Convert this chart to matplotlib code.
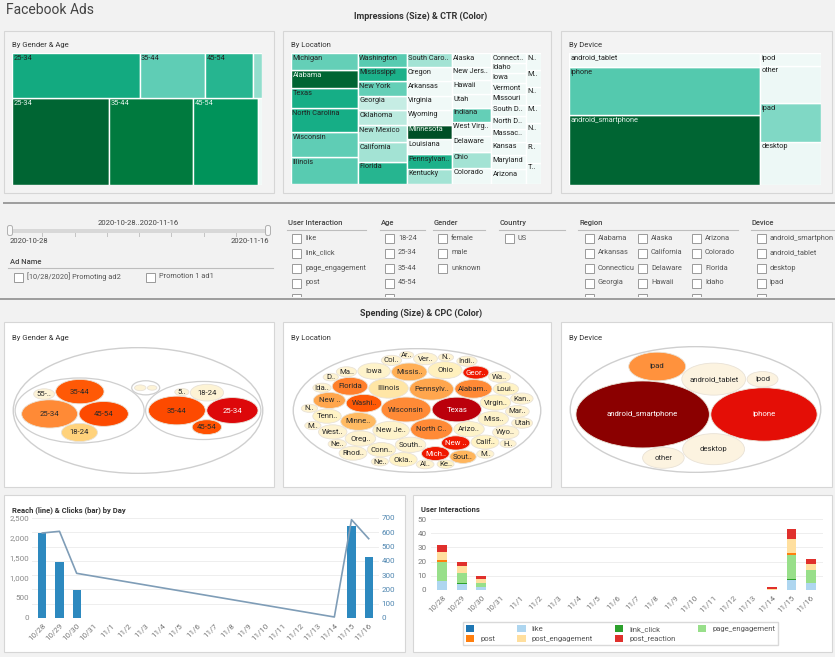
import numpy as np
import matplotlib
matplotlib.use('Agg')
import matplotlib.pyplot as plt
from matplotlib.patches import Rectangle, Circle, FancyBboxPatch
from matplotlib.colors import LinearSegmentedColormap

plt.rcParams['font.family'] = ['Roboto', 'DejaVu Sans']

W, H = 835, 657

# ---------------- data ----------------
# Impressions treemaps (size = impressions, colour = CTR, relative)
gender_tm_group = ['female', 'female', 'female', 'female', 'male', 'male', 'male', 'male']
gender_tm_age = ['25-34', '35-44', '45-54', '18-24', '25-34', '35-44', '45-54', '18-24']
gender_tm_impr = [5715, 2925, 2166, 399, 8256, 7224, 5508, 340]
gender_tm_ctr = [0.60, 0.43, 0.55, 0.30, 0.92, 0.85, 0.72, 0.02]

loc_tm_name = ['Illinois', 'Wisconsin', 'North Carolina', 'Texas', 'Alabama', 'Michigan',
               'Florida', 'California', 'New Mexico', 'Oklahoma', 'Georgia', 'New York',
               'Mississippi', 'Washington', 'Kentucky', 'Pennsylvania', 'Louisiana', 'Minnesota',
               'Wyoming', 'Virginia', 'Arkansas', 'Oregon', 'Ohio', 'South Carolina', 'Colorado',
               'Delaware', 'West Virginia', 'Indiana', 'Utah', 'Hawaii', 'New Jersey', 'Alaska',
               'Arizona', 'Maryland', 'Kansas', 'Massachusetts', 'North Dakota', 'South Dakota',
               'Missouri', 'Vermont', 'Iowa', 'Idaho', 'Connecticut', 'Tennessee', 'Rhode Island',
               'Nebraska', 'Montana', 'Nevada', 'Maine', 'New Hampshire']
loc_tm_impr = [1780, 1650, 1580, 1320, 1190, 1150, 1080, 945, 810, 730, 700, 700, 700, 680, 680,
               660, 660, 660, 660, 640, 640, 640, 620, 630, 630, 620, 570, 550, 540, 540, 540, 540,
               500, 480, 470, 450, 420, 400, 380, 360, 360, 340, 330, 320, 300, 290, 280, 270, 260, 250]
loc_tm_ctr = [0.45, 0.43, 0.58, 0.58, 0.92, 0.42, 0.55, 0.25, 0.22, 0.18, 0.15, 0.42, 0.57, 0.45,
              0.25, 0.57, 0.02, 1.0, 0.02, 0.02, 0.02, 0.02, 0.25, 0.25, 0.02, 0.02, 0.02, 0.42,
              0.02, 0.02, 0.02, 0.02, 0.02, 0.02, 0.02, 0.02, 0.02, 0.02, 0.02, 0.02, 0.02, 0.02,
              0.02, 0.02, 0.02, 0.02, 0.02, 0.02, 0.02, 0.02]

device_tm_name = ['android_smartphone', 'iphone', 'android_tablet', 'desktop', 'ipad', 'other', 'ipod']
device_tm_impr = [13179, 9168, 2674, 2623, 2379, 2257, 793]
device_tm_ctr = [0.92, 0.46, 0.02, 0.03, 0.35, 0.03, 0.02]

# Spending bubbles (area = spending, colour = CPC, relative)
gender_bb_group = ['female'] * 5 + ['unknown'] * 2 + ['male'] * 5
gender_bb_age = ['35-44', '25-34', '45-54', '18-24', '55-64', '25-34', '35-44',
                 '35-44', '25-34', '45-54', '18-24', '55-64']
gender_bb_spend = [650, 870, 676, 361, 121, 25, 36, 900, 729, 240, 306, 56]
gender_bb_cpc = [0.68, 0.55, 0.72, 0.30, 0.04, 0.04, 0.04, 0.72, 0.90, 0.70, 0.05, 0.05]

loc_bb_name = ['Texas', 'Wisconsin', 'Pennsylvania', 'North Carolina', 'Illinois', 'Alabama',
               'New Jersey', 'Washington', 'Minnesota', 'Mississippi', 'Florida', 'Ohio', 'Iowa',
               'New Mexico', 'Arizona', 'Virginia', 'South Dakota', 'Missouri', 'Oregon',
               'New York', 'Tennessee', 'Connecticut', 'West Virginia', 'Michigan', 'California',
               'Oklahoma', 'Rhode Island', 'South Carolina', 'Wyoming', 'Georgia', 'Louisiana',
               'Maryland', 'Vermont', 'Kansas', 'Washington DC', 'Utah', 'Colorado',
               'Massachusetts', 'Indiana', 'Idaho', 'Nebraska', 'Alaska', 'Montana', 'Nevada',
               'Kentucky', 'Hawaii', 'Maine', 'New Hampshire', 'North Dakota', 'Delaware',
               'Arkansas']
loc_bb_spend = [590, 600, 471, 428, 380, 335, 324, 306, 306, 306, 306, 279, 256, 250, 225, 225,
                225, 225, 225, 196, 196, 196, 196, 188, 188, 188, 188, 169, 169, 164, 156, 137,
                137, 121, 117, 106, 100, 100, 100, 81, 81, 76, 72, 72, 69, 64, 64, 64, 56, 56, 49]
loc_bb_cpc = [0.95, 0.55, 0.45, 0.55, 0.18, 0.55, 0.08, 0.68, 0.38, 0.42, 0.58, 0.12, 0.08, 0.45,
              0.08, 0.10, 0.06, 0.08, 0.06, 0.85, 0.10, 0.08, 0.06, 0.85, 0.10, 0.10, 0.06, 0.40,
              0.06, 0.85, 0.10, 0.06, 0.06, 0.06, 0.06, 0.06, 0.06, 0.06, 0.06, 0.06, 0.06, 0.06,
              0.06, 0.06, 0.10, 0.06, 0.06, 0.06, 0.06, 0.06, 0.06]

device_bb_name = ['android_smartphone', 'iphone', 'android_tablet', 'desktop', 'ipad', 'other', 'ipod']
device_bb_spend = [4761, 3025, 1089, 1024, 870, 462, 256]
device_bb_cpc = [1.0, 0.88, 0.01, 0.01, 0.52, 0.01, 0.01]

# Filters
date_from, date_to = '2020-10-28', '2020-11-16'
ad_names = ['[10/28/2020] Promoting ad2', 'Promotion 1 ad1']
ui_items = ['like', 'link_click', 'page_engagement', 'post', 'post_engagement']
age_items = ['18-24', '25-34', '35-44', '45-54', '55-64']
gender_items = ['female', 'male', 'unknown']
country_items = ['US']
region_items = ['Alabama', 'Alaska', 'Arizona', 'Arkansas', 'California', 'Colorado',
                'Connecticut', 'Delaware', 'Florida', 'Georgia', 'Hawaii', 'Idaho',
                'Illinois', 'Indiana', 'Iowa']
device_items = ['android_smartphone', 'android_tablet', 'desktop', 'ipad', 'iphone']

# Reach & clicks by day
days = ['10/28', '10/29', '10/30', '10/31', '11/1', '11/2', '11/3', '11/4', '11/5', '11/6',
        '11/7', '11/8', '11/9', '11/10', '11/11', '11/12', '11/13', '11/14', '11/15', '11/16']
clicks = [595, 392, 194, 0, 0, 0, 0, 0, 0, 0, 0, 0, 0, 0, 0, 0, 0, 0, 642, 425]
reach_days = ['10/28', '10/29', '10/30', '11/14', '11/15', '11/16']
reach = [2125, 2167, 1117, 25, 2458, 1983]

# User interactions by day
ui_days = ['10/28', '10/29', '10/30', '11/14', '11/15', '11/16']
ui_types = ['', 'like', 'link_click', 'page_engagement', 'post', 'post_engagement', 'post_reaction']
ui_blank = [0, 0, 0, 0, 0, 0]
ui_like = [6, 4, 2, 0, 7, 5]
ui_link_click = [0, 1, 0, 0, 1, 0]
ui_page_engagement = [14, 7, 3, 0, 17, 9]
ui_post = [1, 0, 0, 0, 1, 0]
ui_post_engagement = [6, 5, 3, 1, 10, 4]
ui_post_reaction = [5, 3, 2, 1, 7, 4]
ui_colors = ['#1f77b4', '#aed6f0', '#2ca02c', '#98df8a', '#ff7f0e', '#ffdf9e', '#e0302c']

# ---------------- helpers ----------------
tm_cmap = LinearSegmentedColormap.from_list('ctr', [
    (0, '#f6fbfa'), (0.2, '#b5e8dc'), (0.35, '#80d8c5'), (0.45, '#58cbb1'),
    (0.58, '#16ae86'), (0.72, '#00935a'), (0.85, '#007a3e'), (1.0, '#004f26')])
bb_cmap = LinearSegmentedColormap.from_list('cpc', [
    (0, '#fcf3e2'), (0.1, '#fff3c4'), (0.3, '#ffd27a'), (0.45, '#ffa64d'),
    (0.55, '#ff8a36'), (0.7, '#ff5200'), (0.85, '#f01800'), (0.93, '#d20010'), (1.0, '#8b0000')])

fig = plt.figure(figsize=(W / 100, H / 100), dpi=100)
fig.patch.set_facecolor('#f2f2f2')
renderer = fig.canvas.get_renderer()


def px_axes(x0, y0, x1, y1):
    return fig.add_axes([x0 / W, 1 - y1 / H, (x1 - x0) / W, (y1 - y0) / H])


def text_w(s, size):
    t = fig.text(0, 0, s, fontsize=size)
    w = t.get_window_extent(renderer).width
    t.remove()
    return w


def fit(s, width, size, tail='..'):
    if text_w(s, size) <= width:
        return s
    for n in range(len(s) - 1, 0, -1):
        if text_w(s[:n] + tail, size) <= width:
            return s[:n] + tail
    return ''


def squarify(vals, x, y, w, h, ratio=1.0):
    out = []
    rest = float(sum(vals))
    i = 0
    while i < len(vals):
        best, s, j = None, 0.0, i
        while j < len(vals):
            s2 = s + vals[j]
            cw = w * s2 / rest
            hmax = h * max(vals[i:j + 1]) / s2
            hmin = h * min(vals[i:j + 1]) / s2
            worst = max(ratio * hmax / cw, cw / (ratio * hmin))
            if best is not None and worst > best:
                break
            best, s, j = worst, s2, j + 1
        cw = w * s / rest
        yy = y
        for v in vals[i:j]:
            ch = h * v / s
            out.append((x, yy, cw, ch))
            yy += ch
        x, w, rest, i = x + cw, w - cw, rest - s, j
    return out


def tm_cells(ax, idx, labels, vals, ctr, x, y, w, h, ratio):
    idx = sorted(idx, key=lambda k: -vals[k])
    rects = squarify([vals[k] for k in idx], x, y, w, h, ratio)
    for k, (rx, ry, cw, ch) in zip(idx, rects):
        ax.add_patch(Rectangle((rx, ry), cw, ch, facecolor=tm_cmap(ctr[k]),
                               edgecolor='white', lw=1.0))
        if ch >= 9:
            s = fit(labels[k], cw - 3, 5.3)
            if s:
                ax.text(rx + 1.5, ry + ch - 1.5, s, ha='left', va='top', fontsize=5.3,
                        color='#e6f4ec' if ctr[k] > 0.7 else '#222222')


def treemap_axes(x0, y0, x1, y1):
    ax = px_axes(x0, y0, x1, y1)
    ax.set_xlim(0, x1 - x0)
    ax.set_ylim(0, y1 - y0)
    ax.axis('off')
    return ax, x1 - x0, y1 - y0


def pack(radii, pad=1.5):
    # greedy packing: each circle goes to the tangent spot nearest the weighted centre
    radii = np.asarray(radii, float) + pad / 2
    n = len(radii)
    pos = np.zeros((n, 2))
    done = []
    ang = np.linspace(0, 2 * np.pi, 48, endpoint=False)
    dirs = np.c_[np.cos(ang), np.sin(ang)]
    for idx in np.argsort(-radii, kind='stable'):
        r = radii[idx]
        if not done:
            done.append(idx)
            continue
        P, R = pos[done], radii[done]
        cands = [(P[:, None, :] + (R[:, None, None] + r) * dirs[None]).reshape(-1, 2)]
        m = len(done)
        if m >= 2:
            i, j = np.triu_indices(m, 1)
            a, b = R[i] + r, R[j] + r
            dv = P[j] - P[i]
            d = np.hypot(dv[:, 0], dv[:, 1])
            ok = (d < a + b) & (d > np.abs(a - b)) & (d > 1e-9)
            a, b, dv, d, pi = a[ok], b[ok], dv[ok], d[ok], P[i][ok]
            xx = (a ** 2 - b ** 2 + d ** 2) / (2 * d)
            hh = np.sqrt(np.maximum(a ** 2 - xx ** 2, 0))
            base = pi + dv * (xx / d)[:, None]
            perp = np.c_[-dv[:, 1], dv[:, 0]] / d[:, None]
            cands += [base + perp * hh[:, None], base - perp * hh[:, None]]
        C = np.vstack(cands)
        dist = np.hypot(C[:, None, 0] - P[None, :, 0], C[:, None, 1] - P[None, :, 1])
        C = C[np.all(dist >= R[None, :] + r - 1e-6, axis=1)]
        wgt = R ** 2
        cen = (P * wgt[:, None]).sum(0) / wgt.sum()
        score = (np.hypot(C[:, 0] - cen[0], C[:, 1] - cen[1])
                 + 2e-3 * np.abs(C[:, 1] - cen[1]) - 1e-5 * C[:, 1] - 1e-6 * C[:, 0])
        pos[idx] = C[np.argmin(score)]
        done.append(idx)
    return pos


def enclose(pos, radii):
    radii = np.asarray(radii, float)
    lo = (pos - radii[:, None]).min(0)
    hi = (pos + radii[:, None]).max(0)
    c = (lo + hi) / 2
    step = (hi - lo).max() / 4
    g = np.linspace(-1, 1, 11)
    gx, gy = np.meshgrid(g, g)
    for _ in range(30):
        G = c + step * np.c_[gx.ravel(), gy.ravel()]
        f = (np.hypot(pos[None, :, 0] - G[:, None, 0], pos[None, :, 1] - G[:, None, 1])
             + radii[None]).max(1)
        c = G[np.argmin(f)]
        step *= 0.6
    R = (np.hypot(pos[:, 0] - c[0], pos[:, 1] - c[1]) + radii).max()
    return c, R


def draw_bubbles(box, centers, radii, labels, cpc, groups, outer):
    x0, y0, x1, y1 = box
    ax = px_axes(x0, y0, x1, y1)
    (ox, oy), R = outer
    R *= 1.01
    ax.set_xlim(ox - R, ox + R)
    ax.set_ylim(oy - R, oy + R)
    ax.axis('off')
    sx = (x1 - x0) / (2 * R)
    ax.add_patch(Circle(outer[0], outer[1], facecolor='white', edgecolor='#cfcfcf', lw=1.0))
    for (gx, gy), gr in groups:
        ax.add_patch(Circle((gx, gy), gr, facecolor='white', edgecolor='#cfcfcf', lw=0.9))
    for (cx, cy), r, lab, v in zip(centers, radii, labels, cpc):
        ax.add_patch(Circle((cx, cy), r, facecolor=bb_cmap(v), edgecolor='#e9e2d6', lw=0.6))
        s = fit(lab, 2 * r * sx * 0.82, 5.6)
        if s and r * sx > 7:
            ax.text(cx, cy, s, ha='center', va='center', fontsize=5.6,
                    color='white' if v > 0.8 else '#2a2a2a')


# ---------------- page layout ----------------
bg = px_axes(0, 0, W, H)
bg.set_xlim(0, W)
bg.set_ylim(H, 0)
bg.axis('off')

bg.text(6, 10, 'Facebook Ads', fontsize=10, color='#444444', va='center', ha='left')
bg.text(421, 16, 'Impressions (Size) & CTR (Color)', fontsize=6.5, fontweight='bold',
        color='#333333', ha='center', va='center')
bg.text(421, 313, 'Spending (Size) & CPC (Color)', fontsize=6.5, fontweight='bold',
        color='#333333', ha='center', va='center')
bg.plot([3, W], [202.5, 202.5], color='#9d9d9d', lw=1.4, solid_capstyle='butt')
bg.plot([0, W], [299, 299], color='#9d9d9d', lw=1.4, solid_capstyle='butt')

top_panels = [(4, 31, 274, 193), (283, 31, 551, 193), (561, 31, 832, 193)]
mid_panels = [(4, 322, 274, 487), (283, 322, 551, 487), (561, 322, 832, 487)]
for (a, b, c, d) in top_panels:
    bg.add_patch(Rectangle((a, b), c - a, d - b, facecolor='#f3f3f3', edgecolor='#d6d6d6', lw=0.8))
for (a, b, c, d) in mid_panels + [(4, 495, 405, 652), (413, 495, 832, 652)]:
    bg.add_patch(Rectangle((a, b), c - a, d - b, facecolor='white', edgecolor='#d6d6d6', lw=0.8))

for (a, b, c, d), t in zip(top_panels, ['By Gender & Age', 'By Location', 'By Device']):
    bg.text(a + 8, 45, t, fontsize=5.5, color='#333333', va='center')
for (a, b, c, d), t in zip(mid_panels, ['By Gender & Age', 'By Location', 'By Device']):
    bg.text(a + 8, 338, t, fontsize=5.5, color='#333333', va='center')
bg.text(12, 510, 'Reach (line) & Clicks (bar) by Day', fontsize=5.5, fontweight='bold',
        color='#333333', va='center')
bg.text(421, 510, 'User Interactions', fontsize=5.5, fontweight='bold', color='#333333', va='center')

# ---------------- impressions treemaps ----------------
ax, tw, th = treemap_axes(12, 53, 262, 185)
totals = {g: sum(v for gg, v in zip(gender_tm_group, gender_tm_impr) if gg == g)
          for g in dict.fromkeys(gender_tm_group)}
yb = 0
for g in sorted(totals, key=lambda g: -totals[g]):
    gh = th * totals[g] / sum(totals.values())
    idx = [k for k, gg in enumerate(gender_tm_group) if gg == g]
    tm_cells(ax, idx, gender_tm_age, gender_tm_impr, gender_tm_ctr, 0, yb, tw, gh, 1.0)
    yb += gh

ax, tw, th = treemap_axes(291, 53, 541, 184)
tm_cells(ax, range(len(loc_tm_name)), loc_tm_name, loc_tm_impr, loc_tm_ctr, 0, 0, tw, th, 3.0)

ax, tw, th = treemap_axes(569, 53, 821, 185)
tm_cells(ax, range(len(device_tm_name)), device_tm_name, device_tm_impr, device_tm_ctr,
         0, 0, tw, th, 6.5)

# ---------------- spending bubbles ----------------
r_g = np.sqrt(gender_bb_spend)
centers = np.zeros((len(r_g), 2))
grp_names = list(dict.fromkeys(gender_bb_group))
grp_R, grp_members = [], []
for g in grp_names:
    idx = [k for k, gg in enumerate(gender_bb_group) if gg == g]
    p = pack(r_g[idx], pad=1.5)
    c, R = enclose(p, r_g[idx])
    centers[idx] = p - c
    grp_R.append(R + 3)
    grp_members.append(idx)
gp = pack(grp_R, pad=1.5)
for idx, p in zip(grp_members, gp):
    centers[idx] += p
oc, oR = enclose(gp, grp_R)
draw_bubbles((12, 347, 264, 474), centers, r_g, gender_bb_age, gender_bb_cpc,
             [(p, R) for p, R in zip(gp, grp_R)], (oc, oR + 2))

r_l = np.sqrt(loc_bb_spend)
p = pack(r_l, pad=1.2)
oc, oR = enclose(p, r_l)
draw_bubbles((292, 348, 542, 473), p, r_l, loc_bb_name, loc_bb_cpc, [], (oc, oR + 3))

r_d = np.sqrt(device_bb_spend)
p = pack(r_d, pad=1.5)
oc, oR = enclose(p, r_d)
draw_bubbles((569, 346, 822, 473), p, r_d, device_bb_name, device_bb_cpc, [], (oc, oR + 3))

# ---------------- filters ----------------
fa = px_axes(0, 205, W, 297)
fa.set_xlim(0, W)
fa.set_ylim(297, 205)
fa.axis('off')


def checkbox(x, y, label=None, width=None):
    fa.add_patch(Rectangle((x, y - 4.5), 9, 9, facecolor='white', edgecolor='#9a9a9a', lw=0.7))
    if label and y + 4 < 297:
        s = fit(label, width, 5.3, tail='') if width else label
        fa.text(x + 13, y, s, fontsize=5.3, color='#555555', va='center', ha='left')


fa.text(138, 223, date_from + '..' + date_to, fontsize=5.5, color='#444444', ha='center', va='center')
fa.add_patch(Rectangle((10, 228.5), 258, 4, facecolor='#d8d8d8', edgecolor='none'))
for tx in np.linspace(10, 268, 9)[1:-1]:
    fa.plot([tx, tx], [233, 236], color='#c4c4c4', lw=0.7)
for hx in (10, 268):
    fa.add_patch(FancyBboxPatch((hx - 2.5, 225.5), 5, 10, boxstyle='round,pad=0,rounding_size=2',
                                facecolor='#f8f8f8', edgecolor='#b0b0b0', lw=0.7))
fa.text(10, 241, date_from, fontsize=5.5, color='#444444', ha='left', va='center')
fa.text(269, 241, date_to, fontsize=5.5, color='#444444', ha='right', va='center')
fa.text(10, 262, 'Ad Name', fontsize=5.5, color='#444444', va='center', fontweight='medium')
fa.plot([8, 273], [268, 268], color='#bdbdbd', lw=0.8)
checkbox(14, 277, ad_names[0])
checkbox(146, 277, ad_names[1])

filter_cols = [('User Interaction', ui_items, 287, 366, [292]),
               ('Age', age_items, 380, 425, [385]),
               ('Gender', gender_items, 433, 485, [438]),
               ('Country', country_items, 499, 565, [505]),
               ('Region', region_items, 578, 738, [585, 638, 692]),
               ('Device', device_items, 751, 840, [757])]
for title, items, ux0, ux1, bxs in filter_cols:
    fa.text(ux0 + 1, 223, title, fontsize=5.5, color='#444444', va='center', fontweight='medium')
    fa.plot([ux0, ux1], [229.5, 229.5], color='#bdbdbd', lw=0.8)
    for k, it in enumerate(items):
        col, row = k % len(bxs), k // len(bxs)
        nxt = bxs[col + 1] if col + 1 < len(bxs) else W + 2
        checkbox(bxs[col], 238 + 15 * row, it, nxt - bxs[col] - 15)

# ---------------- reach & clicks ----------------
xd = np.arange(len(days))
ax_l = px_axes(32, 518, 379, 618)
ax_b = ax_l.twinx()
ax_l.set_zorder(ax_b.get_zorder() + 1)
ax_l.patch.set_visible(False)
ax_b.bar(xd, clicks, width=0.48, color='#2d89bf', zorder=2)
ax_l.plot([days.index(d) for d in reach_days], reach, color='#7f9db7', lw=1.2)
ax_l.set_xlim(-0.6, len(days) - 0.4)
ax_l.set_ylim(0, 2500)
ax_b.set_ylim(0, 700)
ax_l.set_yticks(range(0, 2501, 500))
ax_l.set_yticklabels([f'{v:,}' for v in range(0, 2501, 500)])
ax_b.set_yticks(range(0, 701, 100))
ax_b.yaxis.grid(True, color='#eeeeee', lw=0.7)
ax_b.set_axisbelow(True)
ax_l.set_xticks(xd)
ax_l.set_xticklabels(days, rotation=45, ha='right', rotation_mode='anchor')
ax_l.tick_params(axis='x', length=0, labelsize=5.8, labelcolor='#777777', pad=3)
ax_l.tick_params(axis='y', length=0, labelsize=5.8, labelcolor='#8a8a8a', pad=2)
ax_b.tick_params(axis='y', length=0, labelsize=5.8, labelcolor='#4f86b0', pad=2)
for a in (ax_l, ax_b):
    for sp in a.spines.values():
        sp.set_visible(False)

# ---------------- user interactions ----------------
ax_u = px_axes(430.6, 519, 822.6, 590)
xu = [days.index(d) for d in ui_days]
series = [ui_blank, ui_like, ui_link_click, ui_page_engagement, ui_post,
          ui_post_engagement, ui_post_reaction]
bottom = np.zeros(len(ui_days))
handles = []
for name, vals, col in zip(ui_types, series, ui_colors):
    h = ax_u.bar(xu, vals, bottom=bottom, width=0.5, color=col, label=name, zorder=2)
    handles.append(h)
    bottom += np.array(vals)
ax_u.set_xlim(-0.6, len(days) - 0.4)
ax_u.set_ylim(0, 50)
ax_u.set_yticks(range(0, 51, 10))
ax_u.yaxis.grid(True, color='#eeeeee', lw=0.7)
ax_u.set_axisbelow(True)
ax_u.set_xticks(xd)
ax_u.set_xticklabels(days, rotation=45, ha='right', rotation_mode='anchor')
ax_u.tick_params(axis='x', length=0, labelsize=5.8, labelcolor='#777777', pad=3)
ax_u.tick_params(axis='y', length=0, labelsize=5.8, labelcolor='#777777', pad=3)
for sp in ax_u.spines.values():
    sp.set_visible(False)

order = [0, 4, 1, 5, 2, 6, 3]
fig.legend([handles[i] for i in order], [ui_types[i] for i in order], ncol=4,
           loc='lower left', mode='expand',
           bbox_to_anchor=(463 / W, 1 - 645 / H, (778 - 463) / W, (645 - 619) / H),
           fontsize=5.5, frameon=True, fancybox=False, edgecolor='#d0d0d0',
           handlelength=1.1, handleheight=1.1, handletextpad=0.8, borderaxespad=0,
           borderpad=0.35, labelspacing=0.35, columnspacing=1.0, labelcolor='#555555')

fig.savefig('out.png', dpi=100, facecolor=fig.get_facecolor())
